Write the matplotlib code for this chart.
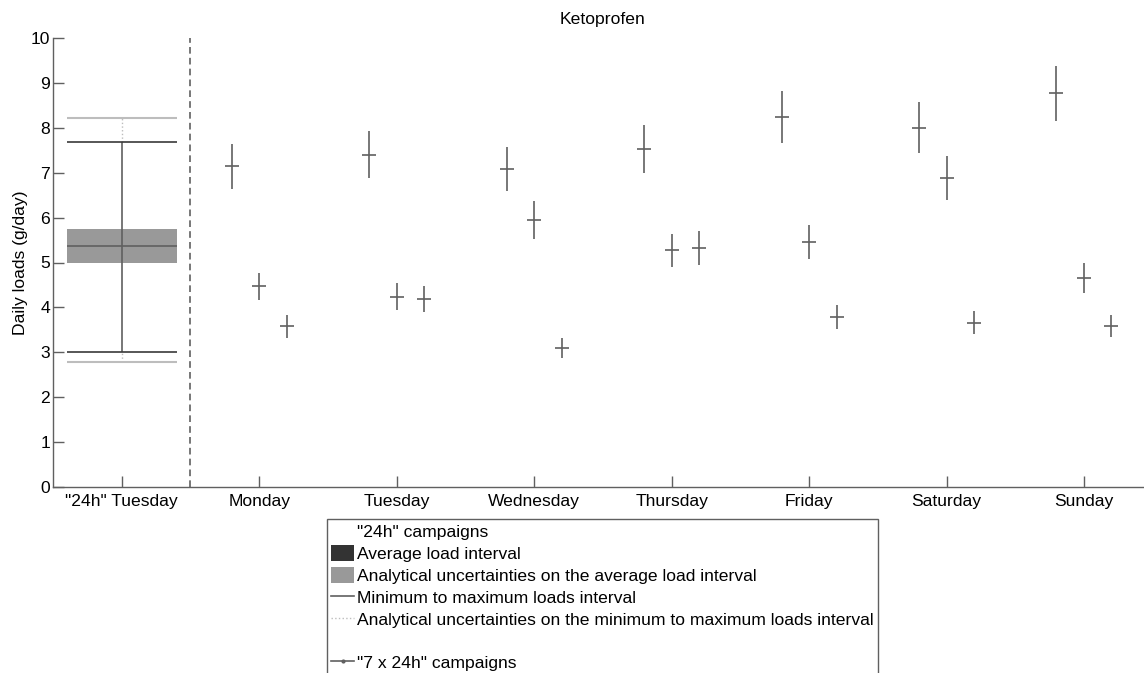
import matplotlib
matplotlib.use("Agg")
import matplotlib.pyplot as plt
from matplotlib.patches import Patch
from matplotlib.lines import Line2D
import numpy as np

plt.rcParams['font.family'] = ['Liberation Sans', 'DejaVu Sans']
FS = 12.6
plt.rcParams['font.size'] = FS

# ---------------- data ----------------
title = "Ketoprofen"
tick_labels = ['"24h" Tuesday', 'Monday', 'Tuesday', 'Wednesday',
               'Thursday', 'Friday', 'Saturday', 'Sunday']

# "24h" campaign summary (g/day)
avg_low = 5.00
avg_high = 5.75
avg_mid = 5.37
load_min = 3.00
load_max = 7.67
unc_min = 2.79
unc_max = 8.21

# "7 x 24h" campaigns: three campaigns per weekday
days = ['Monday', 'Tuesday', 'Wednesday', 'Thursday', 'Friday', 'Saturday', 'Sunday']
camp1 = [7.14, 7.40, 7.08, 7.52, 8.24, 8.00, 8.76]
camp2 = [4.47, 4.24, 5.95, 5.27, 5.46, 6.87, 4.65]
camp3 = [3.58, 4.19, 3.09, 5.33, 3.79, 3.66, 3.59]
err1 = [0.50, 0.52, 0.49, 0.53, 0.58, 0.57, 0.61]
err2 = [0.30, 0.30, 0.42, 0.37, 0.38, 0.49, 0.33]
err3 = [0.25, 0.29, 0.22, 0.38, 0.27, 0.26, 0.25]

# ---------------- figure ----------------
W, H = 1144, 673
fig = plt.figure(figsize=(W / 100, H / 100), dpi=100)
ax_left = 53 / W
ax_right = 1152.7 / W
ax_bottom = (H - 487.3) / H
ax_top = (H - 37.7) / H
ax = fig.add_axes([ax_left, ax_bottom, ax_right - ax_left, ax_top - ax_bottom])

dark = '#3a3a3a'
mid = '#606060'
light = '#bdbdbd'
boxc = '#999999'

# box ("24h" campaigns)
xb = 1
ax.bar([xb], [avg_high - avg_low], bottom=[avg_low], width=0.8,
       color=boxc, edgecolor='none', zorder=2)
ax.hlines([avg_mid], xb - 0.4, xb + 0.4, color=mid, lw=1.2, zorder=3)
ax.vlines([xb], load_min, load_max, color=mid, lw=1.2, zorder=2)
ax.vlines([xb], load_max, unc_max, color=light, lw=1, linestyles=':', zorder=1)
ax.vlines([xb], unc_min, load_min, color=light, lw=1, linestyles=':', zorder=1)
ax.hlines([load_min, load_max], xb - 0.4, xb + 0.4, color=dark, lw=1.2, zorder=3)
ax.hlines([unc_min, unc_max], xb - 0.4, xb + 0.4, color=light, lw=1.5, zorder=3)

# separator
ax.axvline(1.5, color=mid, lw=1.2, linestyle=(0, (4, 2.5)), zorder=1)

# "7 x 24h" campaigns
centers = np.arange(len(days)) + 2
offset = 0.2
for xs_off, vals, errs in [(-offset, camp1, err1), (0.0, camp2, err2), (offset, camp3, err3)]:
    ax.errorbar(centers + xs_off, vals, yerr=errs, fmt='_', ms=10, mew=1.2,
                color=mid, ecolor=mid, elinewidth=1.2, capsize=0,
                linestyle='none', zorder=3)

# axes styling
ax.set_xlim(0.5, 8.5)
ax.set_ylim(0, 10)
ax.set_xticks(np.arange(1, len(tick_labels) + 1))
ax.set_xticklabels(tick_labels)
ax.set_yticks(np.arange(0, 11, 1))
for s in ['top', 'right']:
    ax.spines[s].set_visible(False)
for s in ['left', 'bottom']:
    ax.spines[s].set_color(mid)
    ax.spines[s].set_linewidth(1.0)
ax.tick_params(axis='both', direction='in', length=8, width=1.0, color=mid,
               labelsize=FS, labelcolor='black')
ax.tick_params(axis='y', pad=2)
ax.tick_params(axis='x', pad=5)
ax.set_ylabel('Daily loads (g/day)', fontsize=FS, labelpad=2)
ax.set_title(title, fontsize=FS, pad=10)

# legend
handles = [
    Line2D([], [], linestyle='none'),
    Patch(facecolor='#333333', edgecolor='none'),
    Patch(facecolor=boxc, edgecolor='none'),
    Line2D([], [], color=mid, lw=1.2),
    Line2D([], [], color=light, lw=1, linestyle=':'),
    Line2D([], [], linestyle='none'),
    Line2D([], [], color=mid, lw=1.2, marker='.', ms=4),
]
labels = [
    '"24h" campaigns',
    'Average load interval',
    'Analytical uncertainties on the average load interval',
    'Minimum to maximum loads interval',
    'Analytical uncertainties on the minimum to maximum loads interval',
    ' ',
    '"7 x 24h" campaigns',
]
leg = fig.legend(handles, labels, loc='upper left',
                 bbox_to_anchor=(327 / W, 1 - 519 / H),
                 bbox_transform=fig.transFigure,
                 frameon=True, fancybox=False, framealpha=1,
                 edgecolor=mid, fontsize=FS,
                 handlelength=1.3, handleheight=1.05, handletextpad=0.15,
                 labelspacing=0.27, borderpad=0.25, borderaxespad=0)
leg.get_frame().set_linewidth(1.0)

fig.savefig('out.png', dpi=100)
